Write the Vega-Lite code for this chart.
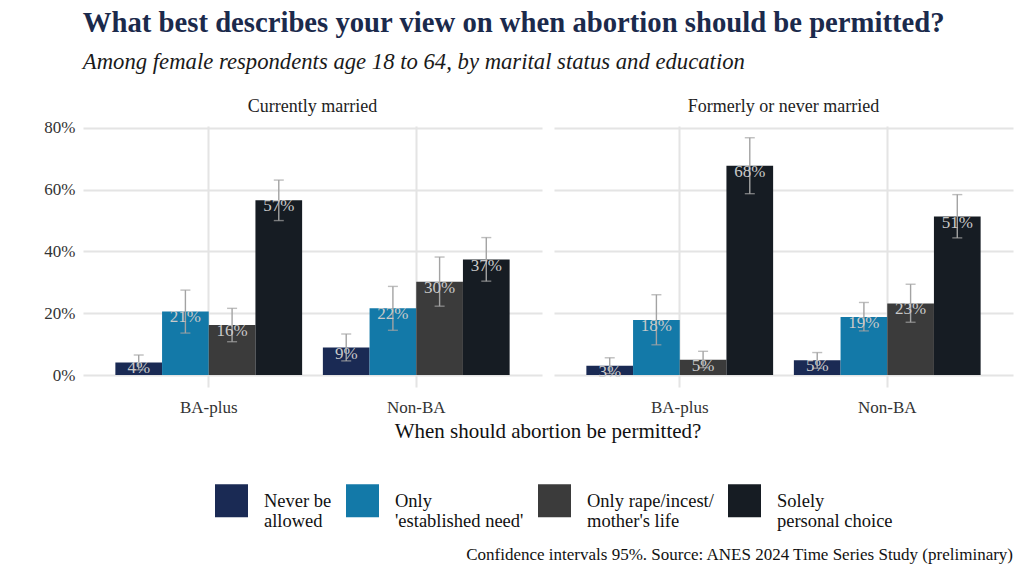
{
  "$schema": "https://vega.github.io/schema/vega-lite/v6.json",
  "background": "white",
  "padding": {"left": 43, "right": 5, "top": 8, "bottom": 6},
  "title": {
    "text": "What best describes your view on when abortion should be permitted?",
    "subtitle": "Among female respondents age 18 to 64, by marital status and education",
    "anchor": "start",
    "dx": 39,
    "font": "Liberation Serif",
    "fontSize": 28.7,
    "fontWeight": "bold",
    "color": "#1b2a4c",
    "subtitleFont": "Liberation Serif",
    "subtitleFontSize": 22.7,
    "subtitleFontStyle": "italic",
    "subtitleColor": "#1a1a1a",
    "subtitlePadding": 14,
    "offset": 24
  },
  "vconcat": [
    {
      "title": {
        "text": "Confidence intervals 95%. Source: ANES 2024 Time Series Study (preliminary)",
        "orient": "bottom",
        "anchor": "end",
        "font": "Liberation Serif",
        "fontSize": 17,
        "fontWeight": "normal",
        "color": "#111111",
        "offset": 16
      },
      "data": {
        "values": [
          {"marital": "Currently married", "edu": "BA-plus", "view": "Never be allowed", "pct": 0.041, "lo": 0.017, "hi": 0.065},
          {"marital": "Currently married", "edu": "BA-plus", "view": "Only 'established need'", "pct": 0.206, "lo": 0.136, "hi": 0.275},
          {"marital": "Currently married", "edu": "BA-plus", "view": "Only rape/incest/mother's life", "pct": 0.162, "lo": 0.108, "hi": 0.216},
          {"marital": "Currently married", "edu": "BA-plus", "view": "Solely personal choice", "pct": 0.566, "lo": 0.500, "hi": 0.631},
          {"marital": "Currently married", "edu": "Non-BA", "view": "Never be allowed", "pct": 0.089, "lo": 0.046, "hi": 0.133},
          {"marital": "Currently married", "edu": "Non-BA", "view": "Only 'established need'", "pct": 0.216, "lo": 0.145, "hi": 0.287},
          {"marital": "Currently married", "edu": "Non-BA", "view": "Only rape/incest/mother's life", "pct": 0.302, "lo": 0.223, "hi": 0.382},
          {"marital": "Currently married", "edu": "Non-BA", "view": "Solely personal choice", "pct": 0.374, "lo": 0.304, "hi": 0.445},
          {"marital": "Formerly or never married", "edu": "BA-plus", "view": "Never be allowed", "pct": 0.030, "lo": 0.005, "hi": 0.056},
          {"marital": "Formerly or never married", "edu": "BA-plus", "view": "Only 'established need'", "pct": 0.178, "lo": 0.098, "hi": 0.260},
          {"marital": "Formerly or never married", "edu": "BA-plus", "view": "Only rape/incest/mother's life", "pct": 0.050, "lo": 0.024, "hi": 0.077},
          {"marital": "Formerly or never married", "edu": "BA-plus", "view": "Solely personal choice", "pct": 0.677, "lo": 0.587, "hi": 0.768},
          {"marital": "Formerly or never married", "edu": "Non-BA", "view": "Never be allowed", "pct": 0.048, "lo": 0.022, "hi": 0.073},
          {"marital": "Formerly or never married", "edu": "Non-BA", "view": "Only 'established need'", "pct": 0.188, "lo": 0.143, "hi": 0.235},
          {"marital": "Formerly or never married", "edu": "Non-BA", "view": "Only rape/incest/mother's life", "pct": 0.232, "lo": 0.171, "hi": 0.294},
          {"marital": "Formerly or never married", "edu": "Non-BA", "view": "Solely personal choice", "pct": 0.513, "lo": 0.444, "hi": 0.584}
        ]
      },
      "facet": {
        "column": {
          "field": "marital",
          "type": "nominal",
          "sort": ["Currently married", "Formerly or never married"],
          "title": "When should abortion be permitted?",
          "header": {
            "labelOrient": "top",
            "titleOrient": "bottom",
            "labelFont": "Liberation Serif",
            "labelFontSize": 18,
            "labelColor": "#222222",
            "labelPadding": 10,
            "titleFont": "Liberation Serif",
            "titleFontSize": 21,
            "titleFontWeight": "normal",
            "titleColor": "#111111",
            "titlePadding": -4
          }
        }
      },
      "spacing": 12,
      "spec": {
        "width": 459,
        "height": 261,
        "encoding": {
          "x": {
            "field": "edu",
            "type": "nominal",
            "sort": ["BA-plus", "Non-BA"],
            "title": null,
            "scale": {"paddingInner": 0.1, "paddingOuter": 0.156},
            "axis": {
              "labelAngle": 0,
              "labelFont": "Liberation Serif",
              "labelFontSize": 17,
              "labelColor": "#333333",
              "labelPadding": 12,
              "ticks": false,
              "domain": false,
              "grid": true,
              "bandPosition": 0.5,
              "gridColor": "#e4e4e4",
              "gridWidth": 2
            }
          },
          "xOffset": {
            "field": "view",
            "type": "nominal",
            "sort": ["Never be allowed", "Only 'established need'", "Only rape/incest/mother's life", "Solely personal choice"]
          }
        },
        "layer": [
          {
            "mark": {"type": "bar"},
            "encoding": {
              "y": {
                "field": "pct",
                "type": "quantitative",
                "title": null,
                "scale": {"domain": [-0.0385, 0.806], "nice": false, "zero": false},
                "axis": {
                  "values": [0, 0.1, 0.2, 0.3, 0.4, 0.5, 0.6, 0.7, 0.8],
                  "format": ".0%",
                  "labelExpr": "round(datum.value * 100) % 20 == 0 ? datum.label : ''",
                  "labelFont": "Liberation Serif",
                  "labelFontSize": 17,
                  "labelColor": "#333333",
                  "labelPadding": 8,
                  "ticks": false,
                  "domain": false,
                  "gridColor": {"condition": {"test": "round(datum.value * 100) % 20 == 0", "value": "#e4e4e4"}, "value": "#eeeeee"},
                  "gridWidth": {"condition": {"test": "round(datum.value * 100) % 20 == 0", "value": 2}, "value": 1.2}
                }
              },
              "y2": {"datum": 0},
              "color": {
                "field": "view",
                "type": "nominal",
                "scale": {
                  "domain": ["Never be allowed", "Only 'established need'", "Only rape/incest/mother's life", "Solely personal choice"],
                  "range": ["#1a2a54", "#1379a8", "#3b3b3b", "#161c23"]
                },
                "legend": {
                  "orient": "none",
                  "legendX": 132,
                  "legendY": 358,
                  "direction": "horizontal",
                  "title": null,
                  "symbolType": "square",
                  "symbolSize": 1089,
                  "symbolStrokeWidth": 0,
                  "symbolOpacity": 1,
                  "labelFont": "Liberation Serif",
                  "labelFontSize": 18.5,
                  "labelColor": "#111111",
                  "labelOffset": 16,
                  "labelLimit": 300,
                  "columnPadding": 14,
                  "labelExpr": "datum.label == 'Never be allowed' ? ['Never be', 'allowed'] : datum.label == 'Solely personal choice' ? ['Solely', 'personal choice'] : datum.label == \"Only 'established need'\" ? ['Only', \"'established need'\"] : ['Only rape/incest/', \"mother's life\"]"
                }
              }
            }
          },
          {
            "mark": {"type": "rule", "color": "#a3a3a3", "strokeWidth": 1.4},
            "encoding": {
              "y": {"field": "lo", "type": "quantitative"},
              "y2": {"field": "hi"}
            }
          },
          {
            "mark": {"type": "tick", "color": "#a3a3a3", "thickness": 1.4, "size": 10},
            "encoding": {
              "y": {"field": "lo", "type": "quantitative"}
            }
          },
          {
            "mark": {"type": "tick", "color": "#a3a3a3", "thickness": 1.4, "size": 10},
            "encoding": {
              "y": {"field": "hi", "type": "quantitative"}
            }
          },
          {
            "mark": {"type": "text", "color": "#c9c9c9", "font": "Liberation Serif", "fontSize": 17, "baseline": "middle", "dy": 6},
            "encoding": {
              "y": {"field": "pct", "type": "quantitative"},
              "text": {"field": "pct", "type": "quantitative", "format": ".0%"}
            }
          }
        ]
      }
    }
  ],
  "resolve": {"legend": {"color": "independent"}},
  "config": {
    "font": "Liberation Serif",
    "view": {"stroke": null}
  }
}
